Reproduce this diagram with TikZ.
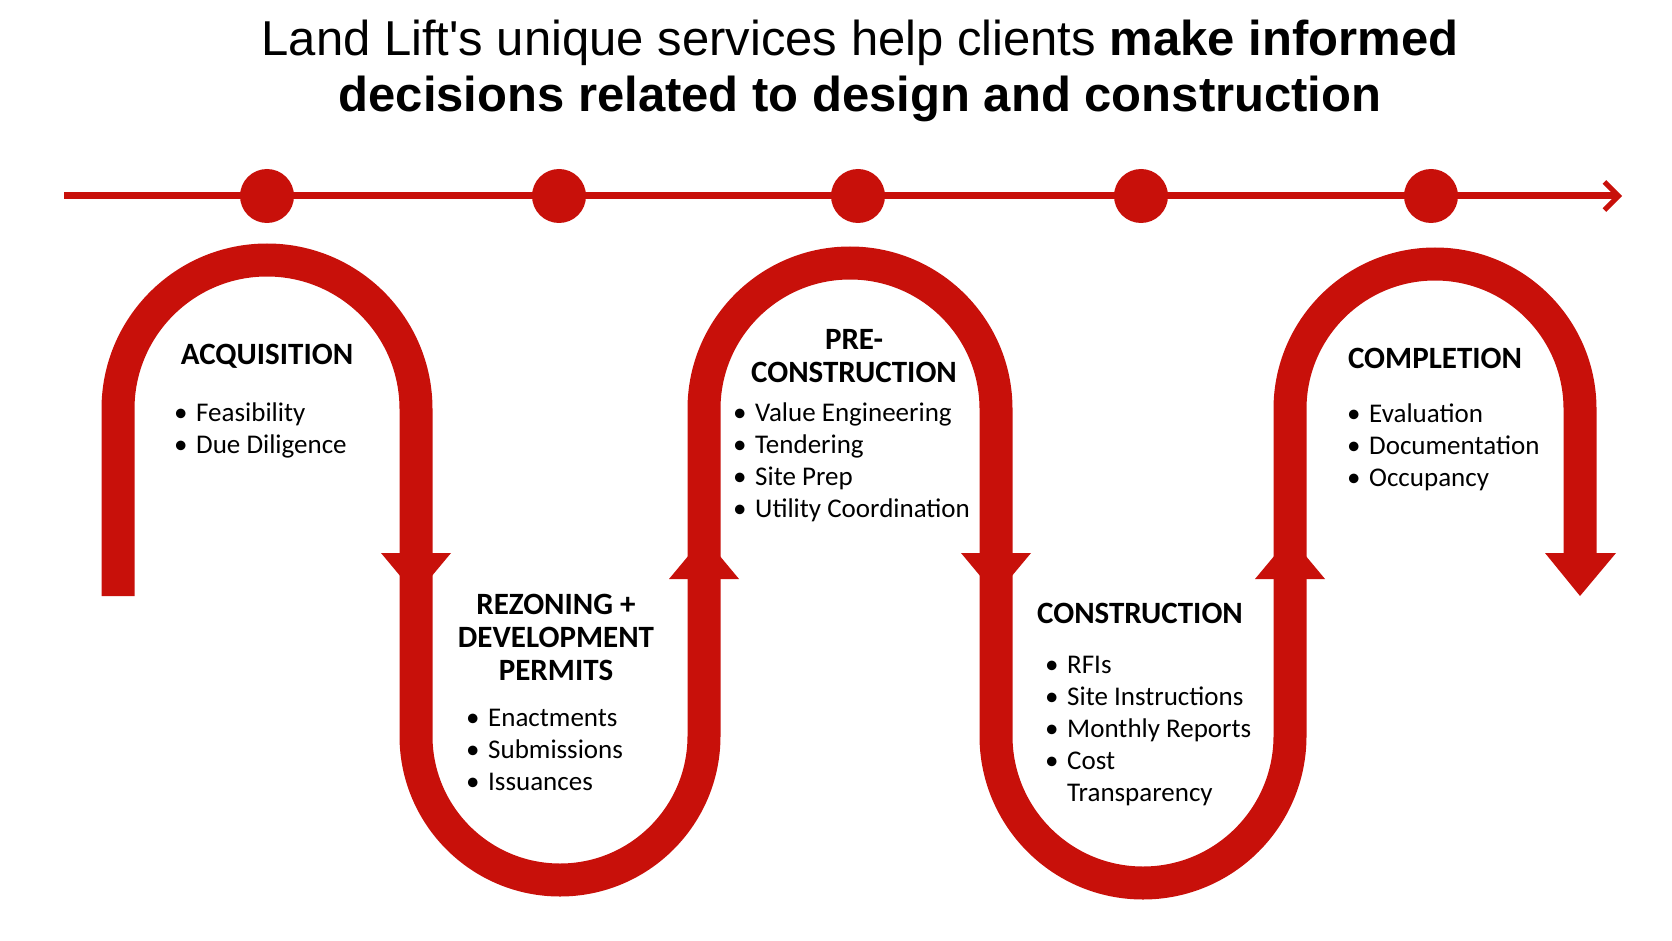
\documentclass[tikz,border=0pt]{standalone}
\usepackage{fontspec}
\setmainfont{Carlito}
\newfontfamily\titlefont{Liberation Sans}
\usetikzlibrary{arrows.meta}
\definecolor{llred}{HTML}{C8100A}

\tikzset{
  dot/.style={circle, fill=llred, minimum size=54pt, inner sep=0pt},
  stage/.style={font=\fontsize{31}{33}\selectfont\bfseries, align=center},
  items/.style={font=\fontsize{27}{32}\selectfont, anchor=north west, inner sep=0pt, align=left},
  tip/.style={fill=llred}
}
\newcommand{\bul}{\makebox[22pt][l]{\textbullet}}

\begin{document}
\begin{tikzpicture}[x=1pt, y=-1pt]
\useasboundingbox (0,0) rectangle (1672,941);

% title
\node[font=\titlefont\fontsize{49}{56}\selectfont, align=center] (title) at (860,71)
  {Land Lift's unique services help clients \textbf{make informed}\\
   \textbf{decisions related to design and construction}};

% timeline
\coordinate (start) at (64,196);
\coordinate (end) at (1622,196);
\draw[llred, line width=7pt, -{Straight Barb[length=14pt,width=28pt,line width=5pt]}] (start) -- (end);
\foreach \x/\n in {267/d1, 559/d2, 858/d3, 1141/d4, 1431/d5}
  \node[dot] (\n) at (\x,196) {};

% serpentine
\draw[llred, line width=33pt]
  (118,596) -- (118,409) arc[start angle=180, end angle=360, radius=149]
  -- (416,736) arc[start angle=180, end angle=0, radius=144]
  -- (704,409) arc[start angle=180, end angle=360, radius=146]
  -- (996,736) arc[start angle=180, end angle=0, radius=147]
  -- (1290,409) arc[start angle=180, end angle=360, radius=145]
  -- (1580,553);
\fill[tip] (381,553) -- (451,553) -- (416,595) -- cycle;
\fill[tip] (669,579) -- (739,579) -- (704,537) -- cycle;
\fill[tip] (961,553) -- (1031,553) -- (996,595) -- cycle;
\fill[tip] (1255,579) -- (1325,579) -- (1290,537) -- cycle;
\fill[tip] (1545,553) -- (1616,553) -- (1580,596) -- cycle;

% stages
\node[stage] (acq) at (267,356) {ACQUISITION};
\node[items] (acqlist) at (174,403) {\bul Feasibility\\ \bul Due Diligence};

\node[stage] (rez) at (556,637) {REZONING +\\DEVELOPMENT\\PERMITS};
\node[items] (rezlist) at (466,709) {\bul Enactments\\ \bul Submissions\\ \bul Issuances};

\node[stage] (pre) at (854,356) {PRE-\\CONSTRUCTION};
\node[items] (prelist) at (733,403) {\bul Value Engineering\\ \bul Tendering\\ \bul Site Prep\\ \bul Utility Coordination};

\node[stage] (con) at (1140,613) {CONSTRUCTION};
\node[items] (conlist) at (1045,656) {\bul RFIs\\ \bul Site Instructions\\ \bul Monthly Reports\\ \bul Cost\\ \hspace*{22pt}Transparency};

\node[stage] (com) at (1435,358) {COMPLETION};
\node[items] (comlist) at (1347,404) {\bul Evaluation\\ \bul Documentation\\ \bul Occupancy};
\end{tikzpicture}
\end{document}
